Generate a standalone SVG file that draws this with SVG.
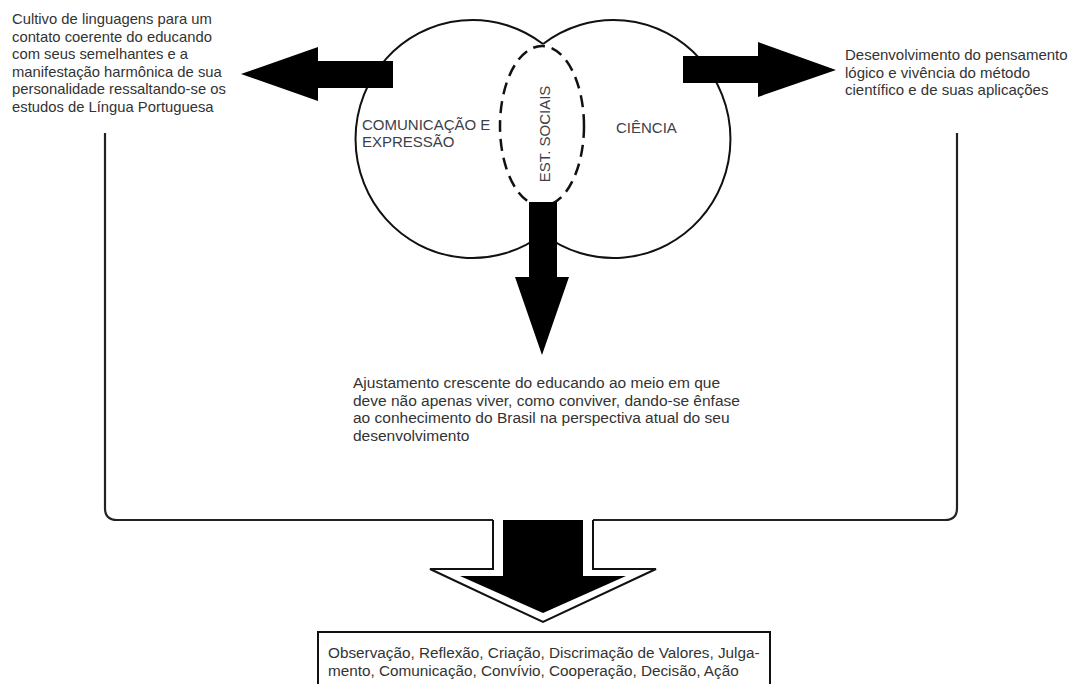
<svg xmlns="http://www.w3.org/2000/svg" width="1076" height="684" viewBox="0 0 1076 684">
<defs>
<style>
.t{font-family:"Liberation Sans",Arial,sans-serif;font-size:15px;fill:#333}
.lbl{font-family:"Liberation Sans",Arial,sans-serif;font-size:15px;fill:#3c4048}
.circ{fill:none;stroke:#111;stroke-width:2}
.dash{fill:none;stroke:#111;stroke-width:2.5;stroke-dasharray:12 7}
.blk{fill:#000}
.ln{fill:none;stroke:#222;stroke-width:2.2}
</style>
</defs>
<rect width="1076" height="684" fill="#fff"/>

<g id="circle-comunicacao">
<path class="circ" d="M543,44 A117,119 0 1 0 543,234"/>
<text class="lbl" x="362" y="130">COMUNICAÇÃO E</text>
<text class="lbl" x="362" y="147">EXPRESSÃO</text>
</g>
<g id="circle-ciencia">
<path class="circ" d="M543,44 A117,119 0 1 1 543,234"/>
<text class="lbl" x="616" y="133">CIÊNCIA</text>
</g>
<g id="ellipse-estudos-sociais">
<ellipse class="dash" cx="542" cy="126" rx="42" ry="80"/>
<text class="lbl" transform="translate(550,134) rotate(-90)" text-anchor="middle">EST. SOCIAIS</text>
</g>

<g id="text-linguagens">
<text class="t" style="font-size:14.8px" x="12" y="24">Cultivo de linguagens para um</text>
<text class="t" style="font-size:14.8px" x="12" y="41.5">contato coerente do educando</text>
<text class="t" style="font-size:14.8px" x="12" y="59">com seus semelhantes e a</text>
<text class="t" style="font-size:14.8px" x="12" y="76.5">manifestação harmônica de sua</text>
<text class="t" style="font-size:14.8px" x="12" y="94">personalidade ressaltando-se os</text>
<text class="t" style="font-size:14.8px" x="12" y="111.5">estudos de Língua Portuguesa</text>
</g>

<g id="text-ciencia">
<text class="t" x="845" y="60">Desenvolvimento do pensamento</text>
<text class="t" x="845" y="77.5">lógico e vivência do método</text>
<text class="t" x="845" y="95">científico e de suas aplicações</text>
</g>

<g id="text-ajustamento">
<text class="t" style="font-size:15.5px" x="353" y="388">Ajustamento crescente do educando ao meio em que</text>
<text class="t" style="font-size:15.5px" x="353" y="405.5">deve não apenas viver, como conviver, dando-se ênfase</text>
<text class="t" style="font-size:15.5px" x="353" y="423">ao conhecimento do Brasil na perspectiva atual do seu</text>
<text class="t" style="font-size:15.5px" x="353" y="440.5">desenvolvimento</text>
</g>

<g id="box-resultado">
<rect x="318" y="632" width="452" height="70" fill="#fff" stroke="#111" stroke-width="2"/>
<text class="t" style="font-size:15.3px" x="328" y="658">Observação, Reflexão, Criação, Discrimação de Valores, Julga-</text>
<text class="t" style="font-size:15.3px" x="328" y="676">mento, Comunicação, Convívio, Cooperação, Decisão, Ação</text>
</g>

<g id="connectors">
<polygon class="blk" points="241,74 318,47 318,61 393,61 393,88 318,88 318,101"/>
<polygon class="blk" points="683,56 758,56 758,42 836,70 758,97 758,83 683,83"/>
<polygon class="blk" points="529,202 557,202 557,277 569,277 542,355 515,277 529,277"/>
<path class="ln" d="M105,133 V508 Q105,520 117,520 H493 M593,520 H945 Q957,520 957,508 V133"/>
<path d="M493,520 V569 H430 L543,622 L656,569 H593 V520" fill="#fff" stroke="#111" stroke-width="2"/>
<polygon class="blk" points="503,520 583,520 583,576 626,576 543,613 460,576 503,576"/>
</g>
</svg>
